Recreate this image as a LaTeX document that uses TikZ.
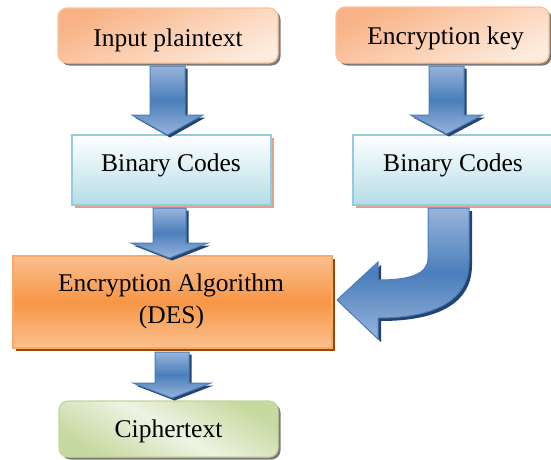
\documentclass[tikz,border=0pt]{standalone}
\usepackage{fontspec}
\setmainfont{Liberation Serif}
\usetikzlibrary{calc}
\definecolor{orTop}{HTML}{F8B285}
\definecolor{orBot}{HTML}{FDEBDD}
\definecolor{orLine}{HTML}{FAC39A}
\definecolor{cyLine}{HTML}{93CDDD}
\definecolor{cyBot}{HTML}{B4DCE7}
\definecolor{pinkSh}{HTML}{DCA292}
\definecolor{algLine}{HTML}{F9A868}
\definecolor{algTop}{HTML}{FAC090}
\definecolor{algMid}{HTML}{F79646}
\definecolor{algSh}{HTML}{984807}
\definecolor{grLine}{HTML}{C3D69B}
\definecolor{grTop}{HTML}{C6D9A0}
\definecolor{grBot}{HTML}{EEF3E3}
\definecolor{arTop}{HTML}{98B4DA}
\definecolor{arMid}{HTML}{4A7EBB}
\definecolor{arLine}{HTML}{4A7EBB}
\definecolor{arSh}{HTML}{24446F}
\definecolor{greySh}{HTML}{7A7A7A}
\tikzset{
  txt/.style={inner sep=0pt, anchor=base, font=\fontsize{25.5}{32}\selectfont},
  obox/.style={rounded corners=9pt, draw=orLine, line width=1.2pt,
    top color=orTop, bottom color=orBot, shading angle=25, inner sep=0pt},
  gbox/.style={rounded corners=9pt, draw=grLine, line width=1.2pt,
    top color=grTop, bottom color=grTop, middle color=grBot, shading angle=-30, inner sep=0pt},
  cbox/.style={draw=cyLine, line width=1.5pt, top color=white, bottom color=cyBot, inner sep=0pt},
  abox/.style={draw=algLine, line width=1.5pt, top color=algTop, bottom color=algTop,
    middle color=algMid, inner sep=0pt},
  arrowbody/.style={draw=arLine, line width=1pt, top color=arTop, bottom color=arTop, middle color=arMid},
  arrowshadow/.style={fill=arSh},
}
% cx, shaft half width, head half width, ytop, yneck, ytip
\newcommand{\blkarrow}[6]{%
  \fill[arrowshadow, shift={(2.5,2.5)}] ({#1-#2},#4) -- ({#1+#2},#4) -- ({#1+#2},#5) -- ({#1+#3},#5)
     -- (#1,#6) -- ({#1-#3},#5) -- ({#1-#2},#5) -- cycle;
  \path[arrowbody] ({#1-#2},#4) -- ({#1+#2},#4) -- ({#1+#2},#5) -- ({#1+#3},#5)
     -- (#1,#6) -- ({#1-#3},#5) -- ({#1-#2},#5) -- cycle;
}
\begin{document}
\begin{tikzpicture}[x=1pt, y=-1pt]
\useasboundingbox (0,0) rectangle (551,459);
\clip (0,0) rectangle (551,459);
% shadows of boxes
\fill[greySh, rounded corners=9pt] (60.5,10.5) rectangle (280.5,65.5);
\fill[greySh, rounded corners=9pt] (338.5,9.5) rectangle (551.5,65.5);
\fill[pinkSh] (75,138) rectangle (274,208);
\fill[pinkSh] (356,138) rectangle (556,208);
\fill[algSh] (16,259) rectangle (335,351);
\fill[greySh, rounded corners=9pt] (61.5,403.5) rectangle (280.5,459.5);
% boxes
\node[obox, minimum width=220pt, minimum height=55pt] (inp) at (168,35.5) {};
\node[obox, minimum width=213pt, minimum height=56pt] (key) at (442.5,35) {};
\node[cbox, minimum width=199pt, minimum height=70pt] (bc1) at (171.5,170) {};
\node[cbox, minimum width=200pt, minimum height=70pt] (bc2) at (453,170) {};
\node[abox, minimum width=319pt, minimum height=92pt] (alg) at (172.5,302) {};
\node[gbox, minimum width=219pt, minimum height=56pt] (ciph) at (168.5,429) {};
% texts
\node[txt] (inpT) at (168,46) {Input plaintext};
\node[txt] (keyT) at (445.5,44) {Encryption key};
\node[txt] (bc1T) at (171,171) {Binary Codes};
\node[txt] (bc2T) at (453,171) {Binary Codes};
\node[txt] (algT1) at (171,291) {Encryption Algorithm};
\node[txt] (algT2) at (171.5,323) {(DES)};
\node[txt] (ciphT) at (168.5,437) {Ciphertext};
% straight block arrows
\blkarrow{167.5}{17.5}{35.5}{66}{115}{135}
\blkarrow{446.5}{17.5}{36}{66}{115}{134}
\blkarrow{169.5}{16.5}{38.5}{208}{243}{258}
\blkarrow{172}{17}{39}{352}{383}{398}
% curved block arrow
\fill[arrowshadow, shift={(3,3)}] (428,208) -- (469,208) -- (469,262)
  .. controls (469,302) and (432,318) .. (378,318) -- (378,339) -- (337,300)
  -- (378,262) -- (378,280) .. controls (408,280) and (428,275) .. (428,258) -- cycle;
\path[arrowbody] (428,208) -- (469,208) -- (469,262)
  .. controls (469,302) and (432,318) .. (378,318) -- (378,339) -- (337,300)
  -- (378,262) -- (378,280) .. controls (408,280) and (428,275) .. (428,258) -- cycle;
\end{tikzpicture}
\end{document}
